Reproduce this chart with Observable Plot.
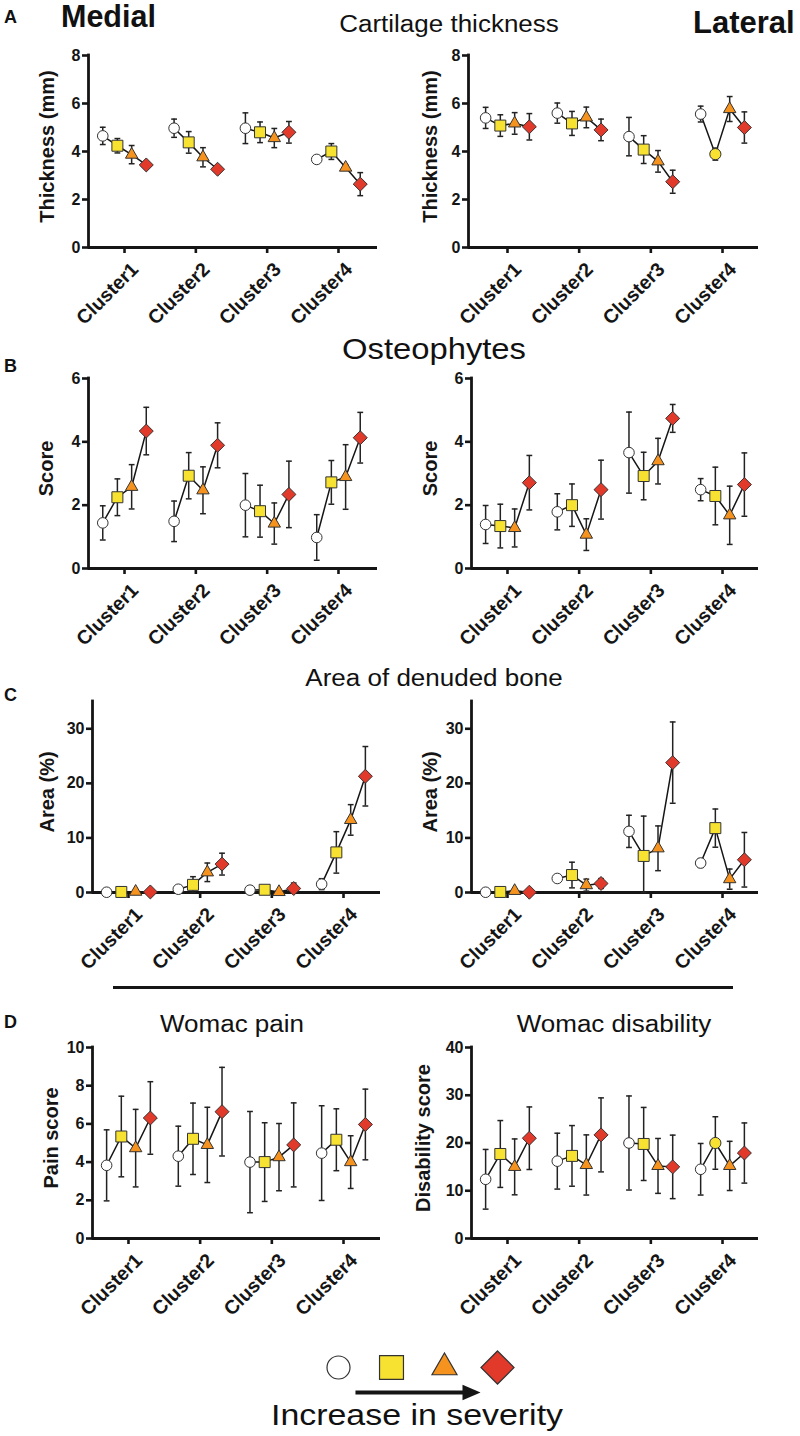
<!DOCTYPE html>
<html><head><meta charset="utf-8">
<script src="https://cdn.jsdelivr.net/npm/d3@7"></script>
<script src="https://cdn.jsdelivr.net/npm/@observablehq/plot@0.6"></script>
<style>
body{margin:0;background:#fff}
#root{position:relative;width:800px;height:1436px;background:#fff;font-family:"Liberation Sans",Arial,sans-serif;color:#111;overflow:hidden}
.t{position:absolute;white-space:nowrap;line-height:1}
.p{position:absolute}
</style></head>
<body><div id="root"></div>
<script>
// ---------- data ----------
const clusters = ["Cluster1", "Cluster2", "Cluster3", "Cluster4"];
// four severity groups (white circle, yellow square, orange triangle, red diamond)
// values are [cluster][severity]

const medialThicknessMean = [[4.65, 4.24, 3.87, 3.44], [4.97, 4.38, 3.76, 3.26], [4.97, 4.80, 4.56, 4.80], [3.67, 4.00, 3.33, 2.64]];
const medialThicknessSD   = [[0.36, 0.30, 0.38, 0.08], [0.38, 0.45, 0.40, 0.10], [0.64, 0.43, 0.40, 0.45], [0.05, 0.33, 0.10, 0.48]];

const lateralThicknessMean = [[5.40, 5.08, 5.17, 5.03], [5.60, 5.17, 5.42, 4.90], [4.62, 4.08, 3.59, 2.74], [5.56, 3.89, 5.77, 5.00]];
const lateralThicknessSD   = [[0.44, 0.45, 0.45, 0.55], [0.42, 0.50, 0.43, 0.45], [0.80, 0.58, 0.45, 0.48], [0.33, 0.25, 0.52, 0.65]];

const medialOsteophyteMean = [[1.44, 2.25, 2.58, 4.34], [1.49, 2.93, 2.47, 3.89], [2.00, 1.81, 1.42, 2.34], [0.98, 2.72, 2.89, 4.13]];
const medialOsteophyteSD   = [[0.54, 0.58, 0.70, 0.75], [0.64, 0.73, 0.74, 0.71], [1.00, 0.82, 0.65, 1.05], [0.72, 0.69, 1.02, 0.80]];

const lateralOsteophyteMean = [[1.39, 1.34, 1.28, 2.71], [1.79, 2.00, 1.07, 2.49], [3.66, 2.92, 3.39, 4.74], [2.49, 2.29, 1.68, 2.65]];
const lateralOsteophyteSD   = [[0.60, 0.69, 0.60, 0.86], [0.57, 0.67, 0.50, 0.93], [1.28, 0.75, 0.72, 0.44], [0.35, 0.91, 0.92, 1.00]];

const medialDenudedMean = [[0.05, 0.10, 0.15, 0.10], [0.60, 1.40, 3.70, 5.20], [0.43, 0.50, 0.10, 0.73], [1.53, 7.35, 13.3, 21.3]];
const medialDenudedSD   = [[0, 0, 0, 0], [0.30, 1.50, 1.70, 2.00], [0.10, 0.10, 0.10, 1.00], [1.00, 3.80, 2.80, 5.45]];

const lateralDenudedMean = [[0.05, 0.10, 0.30, 0.05], [2.57, 3.20, 1.35, 1.65], [11.2, 6.70, 8.10, 23.8], [5.40, 11.8, 2.45, 6.00]];
const lateralDenudedSD   = [[0, 0, 0, 0], [0.20, 2.35, 1.10, 0.90], [2.95, 7.30, 4.10, 7.45], [0.80, 3.50, 1.85, 5.00]];

const womacPainMean = [[3.83, 5.34, 4.73, 6.31], [4.31, 5.22, 4.90, 6.64], [4.00, 4.00, 4.26, 4.90], [4.47, 5.17, 4.00, 5.97]];
const womacPainSD   = [[1.86, 2.11, 2.03, 1.90], [1.57, 1.87, 1.97, 2.32], [2.65, 2.06, 1.76, 2.20], [2.48, 1.62, 1.38, 1.85]];

const womacDisabilityMean = [[12.4, 17.7, 15.0, 21.0], [16.2, 17.3, 15.4, 21.7], [20.0, 19.8, 15.2, 15.0], [14.5, 20.0, 15.2, 17.9]];
const womacDisabilitySD   = [[6.25, 7.00, 5.85, 6.55], [5.85, 6.35, 6.30, 7.75], [9.85, 7.65, 5.75, 6.65], [5.40, 5.50, 5.15, 6.30]];

// points drawn as a yellow circle instead of a square in the original figure
const lateralThicknessCircleOverride = [{cluster: 4, level: 1}];
const womacDisabilityCircleOverride = [{cluster: 4, level: 1}];

const thicknessTicks = [0, 2, 4, 6, 8];
const scoreTicks = [0, 2, 4, 6];
const areaTicks = [0, 10, 20, 30];
const painTicks = [0, 2, 4, 6, 8, 10];
const disabilityTicks = [0, 10, 20, 30, 40];

// ---------- styles ----------
const FONT = "Liberation Sans, Arial, Helvetica, sans-serif";
const offsets = [-0.305, -0.1, 0.1, 0.305];
const levelSymbols = ["circle", "square", "triangle", "diamond2"];
const levelFills = ["#ffffff", "#f7e232", "#f6931f", "#e13a2b"];
const levelR = [5.3, 6.2, 4.6, 6.3];
const legendR = [11.5, 13.5, 9.3, 14.9];
const INK = "#151515";

const capSymbol = {draw(ctx, size) { const w = Math.sqrt(size / Math.PI); ctx.moveTo(-w, 0); ctx.lineTo(w, 0); }};
const headSymbol = {draw(ctx, size) { const s = Math.sqrt(size / Math.PI); ctx.moveTo(s, 0); ctx.lineTo(-s, -0.85 * s); ctx.lineTo(-s, 0.85 * s); ctx.closePath(); }};

const root = document.getElementById("root");

function addText(str, o) {
  const d = document.createElement("div");
  d.className = "t";
  d.textContent = str;
  d.style.fontSize = o.size + "px";
  d.style.fontWeight = o.weight || "normal";
  d.style.top = (o.baseline - 0.847 * o.size) + "px";
  if (o.center != null) {
    d.style.left = o.center + "px";
    d.style.transform = `translateX(-50%) scaleX(${o.scale || 1})`;
  } else {
    d.style.left = o.left + "px";
    if (o.scale) { d.style.transformOrigin = "0 0"; d.style.transform = `scaleX(${o.scale})`; }
  }
  root.appendChild(d);
}

function buildRows(mean, sd, overrides) {
  const out = [];
  mean.forEach((vals, ci) => vals.forEach((m, li) => {
    const s = sd[ci][li];
    out.push({
      cluster: ci + 1, level: li, x: ci + 1 + offsets[li], mean: m, sd: s,
      lo: Math.max(0, m - s), hi: m + s,
      alt: overrides.some(o => o.cluster === ci + 1 && o.level === li)
    });
  }));
  return out;
}

function panel(cfg) {
  const mt = 14, mb = 92;
  const rows = buildRows(cfg.mean, cfg.sd, cfg.overrides || []);
  const withErr = rows.filter(d => d.sd > 0);
  const caps = withErr.flatMap(d => [{x: d.x, y: d.lo}, {x: d.x, y: d.hi}]);
  const marks = [
    Plot.ruleY([cfg.yDomain[0]], {stroke: INK, strokeWidth: 2.8}),
    Plot.ruleX([cfg.xDomain[0]], {stroke: INK, strokeWidth: 2.8, strokeLinecap: "square"}),
    Plot.axisY({ticks: cfg.yTicks, tickFormat: d => String(d), tickSize: 6, tickPadding: 2, fontSize: 16, fontWeight: "bold", strokeWidth: 2.6, label: null, fill: INK, stroke: INK}),
    Plot.axisX({ticks: [1, 2, 3, 4], tickSize: 6, tickFormat: () => "", strokeWidth: 2.6, label: null, stroke: INK}),
    Plot.text(clusters, {x: (d, i) => i + 1, y: cfg.yDomain[0], text: d => d, rotate: -45, textAnchor: "end", lineAnchor: "bottom", dx: 15, dy: 23, fontSize: 19.5, fontWeight: "bold", fill: INK}),
    Plot.text([cfg.yLabel], {frameAnchor: "left", text: d => d, rotate: -90, textAnchor: "middle", lineAnchor: "middle", dx: cfg.labelDx, dy: -5, fontSize: 20, fontWeight: "bold", fill: INK}),
    Plot.line(rows, {x: "x", y: "mean", z: "cluster", stroke: INK, strokeWidth: 1.5}),
    Plot.ruleX(withErr, {x: "x", y1: "lo", y2: "hi", stroke: "#222", strokeWidth: 1.5}),
    Plot.dot(caps, {x: "x", y: "y", symbol: capSymbol, r: 2.9, fill: "none", stroke: "#222", strokeWidth: 1.5})
  ];
  for (let li = 0; li < 4; li++) {
    marks.push(Plot.dot(rows.filter(d => d.level === li && !d.alt), {
      x: "x", y: "mean", symbol: levelSymbols[li], r: levelR[li], fill: levelFills[li], stroke: "#333", strokeWidth: 1
    }));
    marks.push(Plot.dot(rows.filter(d => d.level === li && d.alt), {
      x: "x", y: "mean", symbol: "circle", r: 5.6, fill: levelFills[li], stroke: "#333", strokeWidth: 1
    }));
  }
  const chart = Plot.plot({
    width: 400,
    height: cfg.yBottom - cfg.yTop + mt + mb,
    marginTop: mt, marginBottom: mb,
    marginLeft: cfg.axisX - cfg.left,
    marginRight: cfg.left + 400 - cfg.axisEnd,
    x: {domain: cfg.xDomain},
    y: {domain: cfg.yDomain},
    style: {fontFamily: FONT, background: "transparent", color: INK, overflow: "visible"},
    marks
  });
  const wrap = document.createElement("div");
  wrap.className = "p";
  wrap.style.left = cfg.left + "px";
  wrap.style.top = (cfg.yTop - mt) + "px";
  wrap.appendChild(chart);
  root.appendChild(wrap);
}

const panels = [
  {mean: medialThicknessMean, sd: medialThicknessSD, yDomain: [0, 8], yTicks: thicknessTicks, yLabel: "Thickness (mm)",
   left: 0, axisX: 88, axisEnd: 377, yTop: 55, yBottom: 247, xDomain: [0.495, 4.547], labelDx: -41},
  {mean: lateralThicknessMean, sd: lateralThicknessSD, overrides: lateralThicknessCircleOverride, yDomain: [0, 8], yTicks: thicknessTicks, yLabel: "Thickness (mm)",
   left: 400, axisX: 468, axisEnd: 758, yTop: 55, yBottom: 247, xDomain: [0.456, 4.502], labelDx: -38},
  {mean: medialOsteophyteMean, sd: medialOsteophyteSD, yDomain: [0, 6], yTicks: scoreTicks, yLabel: "Score",
   left: 0, axisX: 88, axisEnd: 377, yTop: 378, yBottom: 568, xDomain: [0.495, 4.547], labelDx: -42},
  {mean: lateralOsteophyteMean, sd: lateralOsteophyteSD, yDomain: [0, 6], yTicks: scoreTicks, yLabel: "Score",
   left: 400, axisX: 471, axisEnd: 758, yTop: 378, yBottom: 568, xDomain: [0.498, 4.502], labelDx: -41},
  {mean: medialDenudedMean, sd: medialDenudedSD, yDomain: [0, 35], yTicks: areaTicks, yLabel: "Area (%)",
   left: 0, axisX: 92, axisEnd: 380, yTop: 701, yBottom: 892, xDomain: [0.498, 4.516], labelDx: -45},
  {mean: lateralDenudedMean, sd: lateralDenudedSD, yDomain: [0, 35], yTicks: areaTicks, yLabel: "Area (%)",
   left: 400, axisX: 471, axisEnd: 758, yTop: 701, yBottom: 892, xDomain: [0.498, 4.502], labelDx: -41},
  {mean: womacPainMean, sd: womacPainSD, yDomain: [0, 10], yTicks: painTicks, yLabel: "Pain score",
   left: 0, axisX: 92, axisEnd: 380, yTop: 1047, yBottom: 1238, xDomain: [0.498, 4.516], labelDx: -41},
  {mean: womacDisabilityMean, sd: womacDisabilitySD, overrides: womacDisabilityCircleOverride, yDomain: [0, 40], yTicks: disabilityTicks, yLabel: "Disability score",
   left: 400, axisX: 471, axisEnd: 758, yTop: 1047, yBottom: 1238, xDomain: [0.498, 4.502], labelDx: -48}
];
panels.forEach(panel);

// ---------- titles ----------
addText("A", {left: 4, baseline: 23, size: 18, weight: "bold"});
addText("Medial", {left: 61, baseline: 27, size: 30.5, weight: "bold"});
addText("Cartilage thickness", {center: 449, baseline: 32, size: 23, scale: 1.13});
addText("Lateral", {left: 693, baseline: 33, size: 31, weight: "bold"});
addText("B", {left: 4, baseline: 372, size: 18, weight: "bold"});
addText("Osteophytes", {center: 434, baseline: 360, size: 29, scale: 1.13});
addText("C", {left: 4, baseline: 701, size: 18, weight: "bold"});
addText("Area of denuded bone", {center: 434, baseline: 686, size: 23, scale: 1.13});
addText("D", {left: 4, baseline: 1028, size: 18, weight: "bold"});
addText("Womac pain", {center: 232, baseline: 1032, size: 23, scale: 1.13});
addText("Womac disability", {center: 614, baseline: 1032, size: 23, scale: 1.13});
addText("Increase in severity", {center: 417, baseline: 1425, size: 30, scale: 1.13});

const sep = document.createElement("div");
sep.style.cssText = "position:absolute;left:113px;top:985.5px;width:620px;height:3px;background:#151515";
root.appendChild(sep);

// ---------- legend ----------
const legendLevels = [0, 1, 2, 3];
const legendMarks = [
  Plot.link([0], {x1: 0.32, x2: 2.4, y1: 0, y2: 0, stroke: INK, strokeWidth: 4}),
  Plot.dot([0], {x: 2.51, y: 0, symbol: headSymbol, r: 9, fill: INK, stroke: "none"})
];
legendLevels.forEach(li => legendMarks.push(Plot.dot([li], {
  x: d => d, y: 1, symbol: levelSymbols[li], r: legendR[li], fill: levelFills[li], stroke: "#333", strokeWidth: 1.2
})));
const legend = Plot.plot({
  width: 260, height: 60, marginLeft: 38, marginRight: 63, marginTop: 22, marginBottom: 13,
  x: {domain: [0, 3], axis: null}, y: {domain: [0, 1], axis: null},
  style: {background: "transparent", overflow: "visible"},
  marks: legendMarks
});
const lw = document.createElement("div");
lw.className = "p"; lw.style.left = "300px"; lw.style.top = "1345px";
lw.appendChild(legend);
root.appendChild(lw);
</script>
</body></html>
